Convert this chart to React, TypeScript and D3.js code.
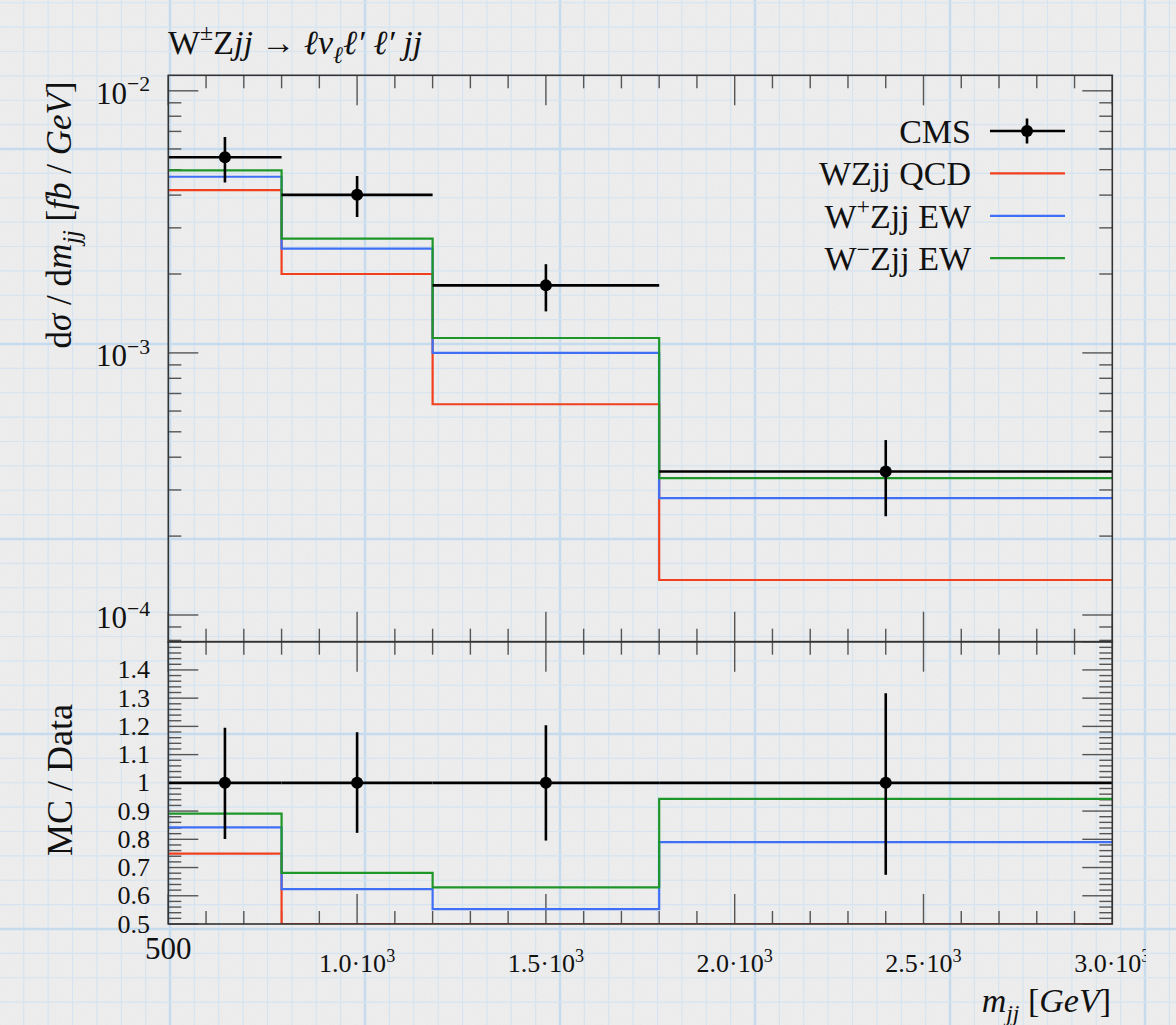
import React, { useEffect, useRef } from 'react';
import * as d3 from 'd3';

// m_jj bin edges [GeV]
const binEdges = [500, 800, 1200, 1800, 3000];

// CMS measurement dsigma/dm_jj [fb/GeV] with error band edges
const cmsValues = [5.58e-3, 4.01e-3, 1.81e-3, 3.53e-4];
const cmsErrHigh = [6.67e-3, 4.73e-3, 2.18e-3, 4.65e-4];
const cmsErrLow = [4.47e-3, 3.30e-3, 1.44e-3, 2.38e-4];

// MC predictions
const qcdValues = [4.18e-3, 2.0e-3, 6.37e-4, 1.36e-4];
const wPlusValues = [4.70e-3, 2.50e-3, 1.0e-3, 2.79e-4];
const wMinusValues = [4.97e-3, 2.73e-3, 1.14e-3, 3.33e-4];

// tick labels
const xTickValues = [500, 1000, 1500, 2000, 2500, 3000];
const xTickText = ["500", "1.0", "1.5", "2.0", "2.5", "3.0"];
const yTickValues = [1e-2, 1e-3, 1e-4];
const yTickExp = ["−2", "−3", "−4"];
const ratioTickValues = [0.5, 0.6, 0.7, 0.8, 0.9, 1.0, 1.1, 1.2, 1.3, 1.4];
const ratioTickText = ["0.5", "0.6", "0.7", "0.8", "0.9", "1", "1.1", "1.2", "1.3", "1.4"];

const RED = "#f0401e";
const BLUE = "#3f6ff5";
const GREEN = "#1e9628";
const FONT = "'Liberation Serif', 'DejaVu Serif', serif";

type Part = { t: string; sup?: boolean; sub?: boolean; it?: boolean };

// append text pieces with super/subscripts
const addParts = (text: any, parts: Part[], size: number) => {
  let cur = 0;
  parts.forEach(p => {
    const off = p.sup ? -0.4 * size : p.sub ? 0.25 * size : 0;
    text.append("tspan")
      .attr("dy", off - cur)
      .attr("font-size", p.sup || p.sub ? size * 0.7 : size)
      .attr("font-style", p.it ? "italic" : "normal")
      .text(p.t);
    cur = off;
  });
};

const App = () => {
  const svgRef = useRef<SVGSVGElement>(null);

  useEffect(() => {
    const svg = d3.select(svgRef.current);
    svg.selectAll("*").remove();

    const W = 1176, H = 1025;
    const left = 168.3, right = 1112.3, top = 75.3, mid = 641.7, bottom = 924;

    const x = d3.scaleLinear().domain([500, 3000]).range([left, right]);
    const y = d3.scaleLog().domain([Math.pow(10, -1.9408), Math.pow(10, -4.1019)]).range([top, mid]);
    const yr = d3.scaleLinear().domain([0.5, 1.5]).range([bottom, mid]).clamp(true);

    const defs = svg.append("defs");
    const noise = defs.append("filter").attr("id", "noise");
    noise.append("feTurbulence").attr("type", "fractalNoise").attr("baseFrequency", 0.85).attr("numOctaves", 2).attr("stitchTiles", "stitch");
    noise.append("feColorMatrix").attr("type", "saturate").attr("values", 0);
    defs.append("clipPath").attr("id", "clipMain").append("rect")
      .attr("x", left).attr("y", top).attr("width", right - left).attr("height", mid - top);
    defs.append("clipPath").attr("id", "clipRatio").append("rect")
      .attr("x", left).attr("y", mid).attr("width", right - left).attr("height", bottom - mid);
    defs.append("clipPath").attr("id", "clipPage").append("rect")
      .attr("x", 0).attr("y", 0).attr("width", 1146).attr("height", H);

    // graph paper background
    svg.append("rect").attr("width", W).attr("height", H).attr("fill", "#eeeeee");
    svg.append("rect").attr("width", W).attr("height", H).attr("filter", "url(#noise)").attr("opacity", 0.07);

    const step = 195 / 8;
    const grid = svg.append("g");
    d3.range(-8, 49).forEach(i => {
      const gx = 170 + i * step;
      const major = i % 8 === 0;
      grid.append("line").attr("x1", gx).attr("x2", gx).attr("y1", 0).attr("y2", H)
        .attr("stroke", major ? "#c6dbed" : "#d5e4f0").attr("stroke-width", major ? 2.5 : 1.2);
    });
    d3.range(-8, 49).forEach(i => {
      const gy = 149 + i * step;
      const major = i % 8 === 0;
      grid.append("line").attr("x1", 0).attr("x2", W).attr("y1", gy).attr("y2", gy)
        .attr("stroke", major ? "#c6dbed" : "#d5e4f0").attr("stroke-width", major ? 2.5 : 1.2);
    });

    // ticks
    const ticks = svg.append("g").attr("stroke", "#555").attr("stroke-width", 1.4);
    const tick = (x1: number, y1: number, x2: number, y2: number) =>
      ticks.append("line").attr("x1", x1).attr("y1", y1).attr("x2", x2).attr("y2", y2);

    d3.range(500, 3001, 100).forEach(v => {
      const len = v % 500 === 0 ? 30 : 13;
      const px = x(v);
      tick(px, top, px, top + len);
      tick(px, mid, px, mid - len);
      tick(px, mid, px, mid + len);
      tick(px, bottom, px, bottom - len);
    });

    const [yMax, yMin] = y.domain();
    [-5, -4, -3, -2].forEach(d => {
      d3.range(1, 10).forEach(k => {
        const v = k * Math.pow(10, d);
        if (v < yMin || v > yMax) return;
        const len = k === 1 ? 30 : 13;
        tick(left, y(v), left + len, y(v));
        tick(right, y(v), right - len, y(v));
      });
    });

    d3.range(0, 51).forEach(i => {
      const v = 0.5 + i * 0.02;
      const len = i % 5 === 0 ? 30 : 13;
      tick(left, yr(v), left + len, yr(v));
      tick(right, yr(v), right - len, yr(v));
    });

    // MC histograms, main panel
    const series = [
      { values: qcdValues, color: RED },
      { values: wPlusValues, color: BLUE },
      { values: wMinusValues, color: GREEN },
    ];
    const centers = binEdges.slice(0, -1).map((e, i) => (e + binEdges[i + 1]) / 2);

    const stepPts = (vals: number[]) =>
      binEdges.map((e, i) => [e, vals[Math.min(i, vals.length - 1)]] as [number, number]);

    const lineMain = d3.line<[number, number]>().x(d => x(d[0])).y(d => y(d[1])).curve(d3.curveStepAfter);
    const lineRatio = d3.line<[number, number]>().x(d => x(d[0])).y(d => yr(d[1])).curve(d3.curveStepAfter);

    const gMain = svg.append("g").attr("clip-path", "url(#clipMain)");
    series.forEach(s => {
      gMain.append("path").attr("d", lineMain(stepPts(s.values)))
        .attr("fill", "none").attr("stroke", s.color).attr("stroke-width", 2.2);
    });

    // CMS points
    cmsValues.forEach((v, i) => {
      gMain.append("line").attr("x1", x(binEdges[i])).attr("x2", x(binEdges[i + 1]))
        .attr("y1", y(v)).attr("y2", y(v)).attr("stroke", "#000").attr("stroke-width", 2.6);
      gMain.append("line").attr("x1", x(centers[i])).attr("x2", x(centers[i]))
        .attr("y1", y(cmsErrHigh[i])).attr("y2", y(cmsErrLow[i])).attr("stroke", "#000").attr("stroke-width", 2.6);
      gMain.append("circle").attr("cx", x(centers[i])).attr("cy", y(v)).attr("r", 6).attr("fill", "#000");
    });

    // ratio panel
    const gRatio = svg.append("g").attr("clip-path", "url(#clipRatio)");
    series.forEach(s => {
      const r = s.values.map((v, i) => v / cmsValues[i]);
      gRatio.append("path").attr("d", lineRatio(stepPts(r)))
        .attr("fill", "none").attr("stroke", s.color).attr("stroke-width", 2.2);
    });
    cmsValues.forEach((v, i) => {
      gRatio.append("line").attr("x1", x(binEdges[i])).attr("x2", x(binEdges[i + 1]))
        .attr("y1", yr(1)).attr("y2", yr(1)).attr("stroke", "#000").attr("stroke-width", 2.6);
      gRatio.append("line").attr("x1", x(centers[i])).attr("x2", x(centers[i]))
        .attr("y1", yr(cmsErrHigh[i] / v)).attr("y2", yr(cmsErrLow[i] / v)).attr("stroke", "#000").attr("stroke-width", 2.6);
      gRatio.append("circle").attr("cx", x(centers[i])).attr("cy", yr(1)).attr("r", 6).attr("fill", "#000");
    });

    // frames
    svg.append("rect").attr("x", left).attr("y", top).attr("width", right - left).attr("height", mid - top)
      .attr("fill", "none").attr("stroke", "#333").attr("stroke-width", 1.6);
    svg.append("rect").attr("x", left).attr("y", mid).attr("width", right - left).attr("height", bottom - mid)
      .attr("fill", "none").attr("stroke", "#333").attr("stroke-width", 1.6);

    const txt = svg.append("g").attr("font-family", FONT).attr("fill", "#111");

    // y tick labels, main panel
    yTickValues.forEach((v, i) => {
      const t = txt.append("text").attr("x", 150).attr("y", y(v) + 13).attr("text-anchor", "end");
      addParts(t, [{ t: "10" }, { t: yTickExp[i], sup: true }], 31);
    });

    // ratio tick labels
    ratioTickValues.forEach((v, i) => {
      txt.append("text").attr("x", 150).attr("y", yr(v) + 8.5).attr("text-anchor", "end")
        .attr("font-size", 26).text(ratioTickText[i]);
    });

    // x tick labels
    const xl = txt.append("g").attr("clip-path", "url(#clipPage)");
    xTickValues.forEach((v, i) => {
      if (i === 0) {
        xl.append("text").attr("x", x(v)).attr("y", 959).attr("text-anchor", "middle")
          .attr("font-size", 31).text(xTickText[i]);
      } else {
        const t = xl.append("text").attr("x", x(v)).attr("y", 972).attr("text-anchor", "middle");
        addParts(t, [{ t: xTickText[i] + "·10" }, { t: "3", sup: true }], 26);
      }
    });

    // axis titles
    const xt = txt.append("text").attr("x", 1111).attr("y", 1012).attr("text-anchor", "end");
    addParts(xt, [{ t: "m", it: true }, { t: "jj", it: true, sub: true }, { t: " [" }, { t: "GeV", it: true }, { t: "]" }], 34);

    const yt = txt.append("text").attr("text-anchor", "middle")
      .attr("transform", "translate(71,215) rotate(-90)");
    addParts(yt, [
      { t: "d" }, { t: "σ", it: true }, { t: " / d" }, { t: "m", it: true }, { t: "jj", it: true, sub: true },
      { t: " [" }, { t: "fb", it: true }, { t: " / " }, { t: "GeV", it: true }, { t: "]" },
    ], 35);

    txt.append("text").attr("text-anchor", "middle").attr("font-size", 36)
      .attr("transform", "translate(72,780) rotate(-90)").text("MC / Data");

    // title
    const title = txt.append("text").attr("x", 168).attr("y", 54);
    addParts(title, [
      { t: "W" }, { t: "±", sup: true }, { t: "Z" }, { t: "jj", it: true }, { t: " → " },
      { t: "ℓν", it: true }, { t: "ℓ", it: true, sub: true }, { t: "ℓ′ ℓ′ jj", it: true },
    ], 34);

    // legend
    const legend = [
      { parts: [{ t: "CMS" }], color: "#000", marker: true },
      { parts: [{ t: "WZjj QCD" }], color: RED, marker: false },
      { parts: [{ t: "W" }, { t: "+", sup: true }, { t: "Zjj EW" }], color: BLUE, marker: false },
      { parts: [{ t: "W" }, { t: "−", sup: true }, { t: "Zjj EW" }], color: GREEN, marker: false },
    ];
    legend.forEach((l, i) => {
      const ly = 131 + i * 42.4;
      const t = txt.append("text").attr("x", 971).attr("y", ly + 12).attr("text-anchor", "end");
      addParts(t, l.parts, 34);
      svg.append("line").attr("x1", 990).attr("x2", 1065).attr("y1", ly).attr("y2", ly)
        .attr("stroke", l.color).attr("stroke-width", l.marker ? 2.6 : 2.2);
      if (l.marker) {
        svg.append("line").attr("x1", 1027).attr("x2", 1027).attr("y1", ly - 12.5).attr("y2", ly + 12.5)
          .attr("stroke", "#000").attr("stroke-width", 2.6);
        svg.append("circle").attr("cx", 1027).attr("cy", ly).attr("r", 6).attr("fill", "#000");
      }
    });
  }, []);

  return (
    <svg ref={svgRef} width={1176} height={1025}
      style={{ position: 'absolute', left: 0, top: 0, display: 'block' }} />
  );
};

export default App;
